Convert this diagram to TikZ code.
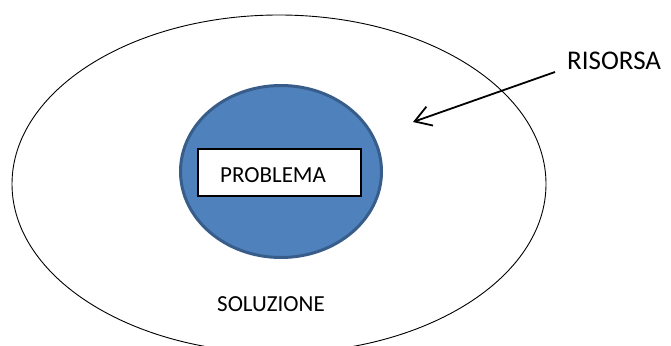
\documentclass[tikz,border=0pt]{standalone}
\usepackage{fontspec}
\setmainfont{Carlito}
\usetikzlibrary{shapes.geometric,arrows.meta}
\definecolor{probfill}{HTML}{4F81BD}
\definecolor{probedge}{HTML}{385D8A}
\tikzset{
  outerell/.style={ellipse, draw=black, line width=0.9pt, inner sep=0pt},
  innerell/.style={ellipse, draw=probedge, fill=probfill, line width=3pt, inner sep=0pt},
  probbox/.style={draw=black, fill=white, line width=1.2pt, inner sep=0pt},
  lbl/.style={inner sep=0pt, font=\fontsize{23}{27}\selectfont},
}
\begin{document}
\begin{tikzpicture}[x=1pt,y=-1pt]
\useasboundingbox (0,0) rectangle (671,345);
\clip (0,0) rectangle (671,345);
\node[outerell, minimum width=534pt, minimum height=338pt] (sol) at (279,184) {};
\node[innerell, minimum width=201pt, minimum height=172pt] (prob) at (281,171.5) {};
\node[probbox, minimum width=163pt, minimum height=47pt] (box) at (279.5,172.5) {};
\node[lbl, anchor=base west] (ptext) at (220,182) {PROBLEMA};
\node[lbl, anchor=base west] (stext) at (217,311) {SOLUZIONE};
\node[lbl, anchor=base west, font=\fontsize{27}{31}\selectfont] (rtext) at (567,70) {RISORSA};
\coordinate (astart) at (555,72);
\coordinate (aend) at (413,122);
\draw[line width=1.8pt, -{Straight Barb[length=16pt,width=20pt,line width=1.8pt]}] (astart) -- (aend);
\end{tikzpicture}
\end{document}
